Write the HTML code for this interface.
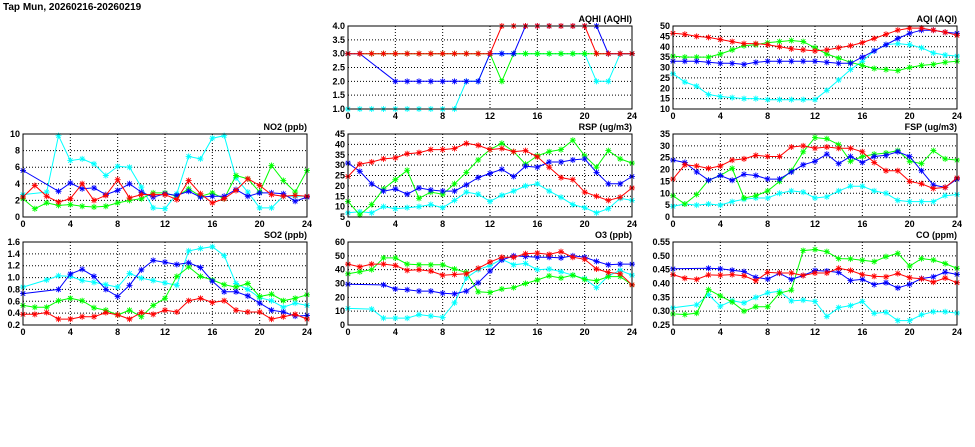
<!DOCTYPE html>
<html><head><meta charset="utf-8"><style>
html,body{margin:0;padding:0;background:#fff;width:975px;height:447px;overflow:hidden}
svg{display:block}
text{font-family:"Liberation Sans",sans-serif;font-size:9px;font-weight:bold;fill:#000}
</style></head><body>
<svg id="chart" width="975" height="447">
<text x="3" y="10" style="font-size:10px">Tap Mun, 20260216-20260219</text>
</svg>
<script>
const hours = [0,1,2,3,4,5,6,7,8,9,10,11,12,13,14,15,16,17,18,19,20,21,22,23,24];
const xTicks = [0,4,8,12,16,20,24];
const seriesColors = ['#00ffff','#00ff00','#0000ff','#ff0000'];
const N = null;

const aqhiCyan = [1,1,1,1,1,1,1,1,1,1,2,2,3,3,3,3,3,3,3,3,3,2,2,3,3];
const aqhiGreen = [3,3,3,3,3,3,3,3,3,3,3,3,3,2,3,3,3,3,3,3,3,3,3,3,3];
const aqhiBlue = [3,3,N,N,2,2,2,2,2,2,2,2,3,3,3,4,4,4,4,4,4,4,3,3,3];
const aqhiRed = [3,3,3,3,3,3,3,3,3,3,3,3,3,4,4,4,4,4,4,4,4,3,3,3,3];
const aqhiTicks = [1.0,1.5,2.0,2.5,3.0,3.5,4.0];

const aqiCyan = [27,23,21,17,16,15.5,15,15,14.5,14.5,14.5,14.5,14.5,19,24,29,33,38,41,41.5,41,39.5,37,36,35.5];
const aqiGreen = [35.5,35,35,35,36.5,38.5,40.5,41,42,42.5,43,42.5,39.5,36.5,34.5,32.5,31,29.5,29,28.5,30,31,31.5,32.5,33];
const aqiBlue = [33,33,33,32.5,32,32,31.5,32.5,33,33,33,33,33,32.5,32,32,35,38,41,44,46.5,48,48,47,46.5];
const aqiRed = [46.5,46,45,44.5,43.5,42.5,41.5,41.5,41,40,39,38.5,38,38.5,39.5,40.5,42,44,46,48,49,49,48,47,45.5];
const aqiTicks = [10,15,20,25,30,35,40,45,50];

const no2Cyan = [2.7,N,3.0,9.8,6.8,7.0,6.4,5.0,6.1,6.0,3.6,1.1,1.0,2.8,7.3,7.0,9.5,9.8,4.7,3.0,1.1,1.1,2.5,2.5,2.5];
const no2Green = [2.2,1.0,1.7,1.4,1.5,1.3,1.2,1.3,1.7,2.0,2.2,2.9,2.9,2.5,3.4,2.5,2.9,2.2,5.0,4.6,3.0,6.2,4.4,3.0,5.6];
const no2Blue = [5.6,N,N,3.1,4.1,3.4,3.5,2.7,3.2,4.0,3.0,2.4,2.8,2.6,3.1,2.4,2.5,2.5,3.3,2.5,2.9,2.9,2.8,1.9,2.4];
const no2Red = [2.4,3.8,2.5,1.8,2.2,4.0,2.0,2.6,4.5,2.3,2.7,2.7,2.7,2.1,4.4,2.8,1.7,2.2,3.2,4.6,3.8,2.7,2.5,2.6,2.5];
const no2Ticks = [0,2,4,6,8,10];

const rspCyan = [7,7.5,7,10,9,9.5,10,11,9.5,13,17,16,12.5,15.5,17.5,20,21,17.5,14.5,11,9.5,7,9,14,13];
const rspGreen = [12.5,6,11,18.5,23,27.5,14,17,16,21,26.5,32.5,37.5,40.5,36.5,30.5,34.5,36.5,37.5,42,34.5,29,37,33,31];
const rspBlue = [31,27,21,17.5,18.5,16,19,18,17.5,17.5,20.5,24,26,28,24.5,29.5,29,31.5,31.5,32.5,33,26.5,21,21,24.5];
const rspRed = [24.5,30.5,31.5,33,33.5,35.5,36,37.5,37.5,38,40.5,39.5,37.5,38,36.5,37,34,29,24,23,17,15,13,14.5,19];
const rspTicks = [5,10,15,20,25,30,35,40,45];

const fspCyan = [4.5,5.5,5,5.5,5,6.5,7.5,8,8,10,11,10.5,8,8.5,11,13,13,11,10,7,6.5,6.5,6.5,9,9.5];
const fspGreen = [9,5.5,9.5,15.5,17.5,20.5,8,9,11,15,19.5,27.5,33.5,33,30.5,23.5,25.5,26.5,27,28,23.5,22.5,28,24.5,24];
const fspBlue = [24,23,19,15.5,17.5,15.5,18,17.5,16,16,19,22,23.5,26.5,22.5,25.5,23,25.5,26,27.5,25.5,19.5,13.5,12.5,16];
const fspRed = [16,22,21.5,20.5,21.5,24,24.5,26,25.5,25.5,29.5,30,29,29.5,29,29,27.5,23,19.5,19.5,15,14,12,12.5,16.5];
const fspTicks = [0,5,10,15,20,25,30,35];

const so2Cyan = [0.84,N,0.96,1.03,1.02,0.95,0.92,0.88,0.84,1.07,0.99,0.95,0.91,0.87,1.45,1.49,1.52,1.37,0.9,0.8,0.66,0.61,0.5,0.57,0.53];
const so2Green = [0.53,0.5,0.5,0.61,0.65,0.61,0.49,0.45,0.37,0.45,0.34,0.53,0.65,1.02,1.18,1.02,0.96,0.88,0.84,0.9,0.68,0.72,0.61,0.65,0.71];
const so2Blue = [0.73,N,N,0.8,1.06,1.14,1.02,0.8,0.68,0.87,1.13,1.29,1.26,1.22,1.25,1.17,0.94,0.76,0.76,0.69,0.57,0.45,0.42,0.35,0.36];
const so2Red = [0.38,0.38,0.41,0.3,0.3,0.34,0.34,0.41,0.37,0.3,0.41,0.38,0.45,0.42,0.61,0.65,0.58,0.61,0.45,0.42,0.42,0.3,0.34,0.38,0.3];
const so2Ticks = [0.2,0.4,0.6,0.8,1.0,1.2,1.4,1.6];

const o3Cyan = [12,N,11.5,5,5,5,7.5,6.5,5.5,16,34,40,43,47.5,43.5,44.5,40,40.5,38.5,36,33.5,27,35.5,39.5,36];
const o3Green = [37,38.5,40,48.5,48.5,44,43.5,43.5,43.5,40.5,38,24,23.5,26,27,30,32.5,35.5,34,36,33,32,35,35,29];
const o3Blue = [29.5,N,N,29,26,25.5,24.5,24.5,23,22.5,24.5,30.5,39,47,50,49.5,49,49,48.5,50,49,46,43.5,44,44];
const o3Red = [44,42,44,44,43,39.5,40,39,36,36.5,37,41,45.5,49,49,51.5,52,51,53,49,47.5,40.5,38,37,29];
const o3Ticks = [0,10,20,30,40,50,60];

const coCyan = [0.312,N,0.323,0.36,0.318,0.338,0.33,0.35,0.366,0.372,0.337,0.34,0.335,0.281,0.313,0.32,0.335,0.292,0.296,0.266,0.266,0.287,0.298,0.298,0.293];
const coGreen = [0.29,0.288,0.293,0.378,0.355,0.333,0.30,0.316,0.316,0.365,0.376,0.519,0.523,0.515,0.49,0.489,0.484,0.479,0.497,0.509,0.463,0.49,0.485,0.472,0.455];
const coBlue = [0.453,N,N,0.455,0.453,0.448,0.443,0.422,0.416,0.437,0.415,0.429,0.447,0.445,0.44,0.411,0.415,0.396,0.403,0.384,0.397,0.418,0.424,0.441,0.433];
const coRed = [0.432,0.419,0.415,0.431,0.43,0.432,0.428,0.41,0.44,0.438,0.438,0.429,0.438,0.438,0.455,0.447,0.432,0.426,0.424,0.436,0.421,0.417,0.405,0.42,0.403];
const coTicks = [0.25,0.30,0.35,0.40,0.45,0.50,0.55];

const panels = [
 {name:'aqhi',title:'AQHI (AQHI)',L:348,T:26,ticks:aqhiTicks,dec:1,series:[aqhiCyan,aqhiGreen,aqhiBlue,aqhiRed]},
 {name:'aqi',title:'AQI (AQI)',L:673,T:26,ticks:aqiTicks,dec:0,series:[aqiCyan,aqiGreen,aqiBlue,aqiRed]},
 {name:'no2',title:'NO2 (ppb)',L:23,T:134,ticks:no2Ticks,dec:0,series:[no2Cyan,no2Green,no2Blue,no2Red]},
 {name:'rsp',title:'RSP (ug/m3)',L:348,T:134,ticks:rspTicks,dec:0,series:[rspCyan,rspGreen,rspBlue,rspRed]},
 {name:'fsp',title:'FSP (ug/m3)',L:673,T:134,ticks:fspTicks,dec:0,series:[fspCyan,fspGreen,fspBlue,fspRed]},
 {name:'so2',title:'SO2 (ppb)',L:23,T:242,ticks:so2Ticks,dec:1,series:[so2Cyan,so2Green,so2Blue,so2Red]},
 {name:'o3',title:'O3 (ppb)',L:348,T:242,ticks:o3Ticks,dec:0,series:[o3Cyan,o3Green,o3Blue,o3Red]},
 {name:'co',title:'CO (ppm)',L:673,T:242,ticks:coTicks,dec:2,series:[coCyan,coGreen,coBlue,coRed]}
];
const W=284,H=83;
const NS='http://www.w3.org/2000/svg';
const svg=document.getElementById('chart');
function mk(tag,attrs,parent){const e=document.createElementNS(NS,tag);for(const k in attrs)e.setAttribute(k,attrs[k]);(parent||svg).appendChild(e);return e;}
const colorNames=['cyan','green','blue','red'];
panels.forEach(p=>{
 const g=mk('g',{});
 
 
 const ymin=p.ticks[0],ymax=p.ticks[p.ticks.length-1];
 const xs=v=>p.L+v/24*W;
 const ys=v=>p.T+H-(v-ymin)/(ymax-ymin)*H;
 p.ticks.forEach((t,i)=>{
  const y=ys(t);
  if(i>0&&i<p.ticks.length-1){const l=mk('line',{x1:p.L,x2:p.L+W,y1:y,y2:y,stroke:'#000','stroke-width':1,'stroke-dasharray':'1,2'},g);
   
   }
  const tx=mk('text',{x:p.L-3,y:y+3,'text-anchor':'end'},g);
  tx.textContent=t.toFixed(p.dec);
  
  
 });
 xTicks.forEach((t,i)=>{
  const x=xs(t);
  if(i>0&&i<xTicks.length-1){const l=mk('line',{x1:x,x2:x,y1:p.T,y2:p.T+H,stroke:'#000','stroke-width':1,'stroke-dasharray':'1,2'},g);
   
   }
  const tx=mk('text',{x:x,y:p.T+H+10,'text-anchor':'middle'},g);
  tx.textContent=t;
  
  
 });
 p.series.forEach((arr,si)=>{
  const c=seriesColors[si];
  const pts=[];
  arr.forEach((v,i)=>{if(v!==null)pts.push([xs(hours[i]),ys(v)]);});
  const pl=mk('polyline',{points:pts.map(q=>q[0].toFixed(1)+','+q[1].toFixed(1)).join(' '),fill:'none',stroke:c,'stroke-width':1},g);
  
  
  pts.forEach(q=>{
   const m=mk('path',{d:`M${q[0]-3},${q[1]}h6M${q[0]},${q[1]-3}v6M${q[0]-2.2},${q[1]-2.2}l4.4,4.4M${q[0]-2.2},${q[1]+2.2}l4.4,-4.4`,stroke:c,'stroke-width':0.9,fill:'none'},g);
   
   
  });
 });
 const fr=mk('rect',{x:p.L,y:p.T,width:W,height:H,fill:'none',stroke:'#000','stroke-width':1},g);
 
 
 const ti=mk('text',{x:p.L+W,y:p.T-4,'text-anchor':'end'},g);
 ti.textContent=p.title;
 
 
});
</script>
</body></html>
